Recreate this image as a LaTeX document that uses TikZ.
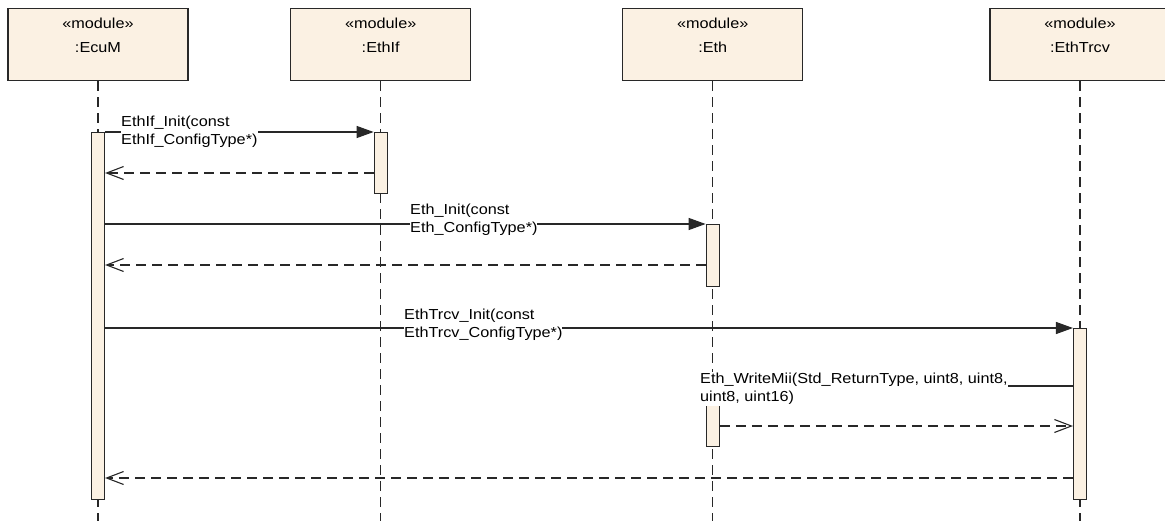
\documentclass[tikz,border=0pt]{standalone}
\usepackage{fontspec}
\setmainfont[FakeStretch=1.12]{Liberation Sans}
\usetikzlibrary{arrows.meta}
\usetikzlibrary{positioning}
\definecolor{modfill}{RGB}{251,241,227}
\definecolor{umlline}{RGB}{40,40,40}

\begin{document}
\begin{tikzpicture}[x=1pt,y=-1pt] %% sequence diagram
	\tikzstyle{module}=[rectangle,draw=umlline,fill=modfill,line width=1.3pt,minimum width=180pt,minimum height=72pt,anchor=north,inner sep=0pt];
	\tikzstyle{modname}=[align=center,font=\fontsize{14.5}{23.4}\selectfont,inner sep=0pt,anchor=north];
	\tikzstyle{activation}=[rectangle,draw=umlline,fill=modfill,line width=1.1pt,minimum width=13pt,anchor=north,inner sep=0pt];
	\tikzstyle{lifeline}=[draw=umlline,line width=1.1pt,dash pattern=on 10pt off 6pt];
	\tikzstyle{call}=[draw=umlline,line width=1.2pt,-{Triangle[length=17pt,width=12pt]}];
	\tikzstyle{reply}=[draw=umlline,line width=1.1pt,dash pattern=on 10pt off 6pt,-{Straight Barb[length=17pt,width=13pt]}];
	\tikzstyle{msg}=[align=left,fill=white,inner xsep=0pt,inner ysep=1pt,font=\fontsize{14.5}{18}\selectfont,anchor=west];
	\useasboundingbox (0,0) rectangle (1165,521);
	% modules
	\node[module] (ecum)  at (98,8)    {};
	\node[module] (ethif) at (380.7,8) {};
	\node[module] (eth)   at (712.7,8) {};
	\node[module] (trcv)  at (1080,8)  {};
	\node[modname] (ecumT)  at (98,18)    {«module»\\:EcuM};
	\node[modname] (ethifT) at (380.7,18) {«module»\\:EthIf};
	\node[modname] (ethT)   at (712.7,18) {«module»\\:Eth};
	\node[modname] (trcvT)  at (1080,18)  {«module»\\:EthTrcv};
	% lifelines
	\coordinate (bottom) at (0,521);
	\foreach \m in {ecum,ethif,eth,trcv}
		\draw[lifeline] (\m.south) -- (\m.south |- bottom);
	% activations
	\node[activation,minimum height=367pt] (ecumA)  at (98,132)    {};
	\node[activation,minimum height=61pt]  (ethifA) at (380.7,132) {};
	\node[activation,minimum height=62pt]  (ethA)   at (712.7,224) {};
	\node[activation,minimum height=60pt]  (ethB)   at (712.7,386) {};
	\node[activation,minimum height=171pt] (trcvA)  at (1080,328)  {};
	% messages
	\draw[call]  (ecumA.east |- ethifA.north) -- (ethifA.north west);
	\draw[reply] (ethifA.west |- 0,173) -- (ecumA.east |- 0,173);
	\draw[call]  (ecumA.east |- ethA.north) -- (ethA.north west);
	\draw[reply] (ethA.west |- 0,265) -- (ecumA.east |- 0,265);
	\draw[call]  (ecumA.east |- trcvA.north) -- (trcvA.north west);
	\draw[call]  (trcvA.west |- ethB.north) -- (ethB.north east);
	\draw[reply] (ethB.east |- 0,426) -- (trcvA.west |- 0,426);
	\draw[reply] (trcvA.west |- 0,478) -- (ecumA.east |- 0,478);
	% labels
	\node[msg] (ethifInit) at (121,132) {EthIf\_Init(const\\EthIf\_ConfigType*)};
	\node[msg] (ethInit)   at (410,220) {Eth\_Init(const\\Eth\_ConfigType*)};
	\node[msg] (trcvInit)  at (404,325) {EthTrcv\_Init(const\\EthTrcv\_ConfigType*)};
	\node[msg] (writeMii)  at (700,389) {Eth\_WriteMii(Std\_ReturnType, uint8, uint8,\\uint8, uint16)};
\end{tikzpicture}
\end{document}
